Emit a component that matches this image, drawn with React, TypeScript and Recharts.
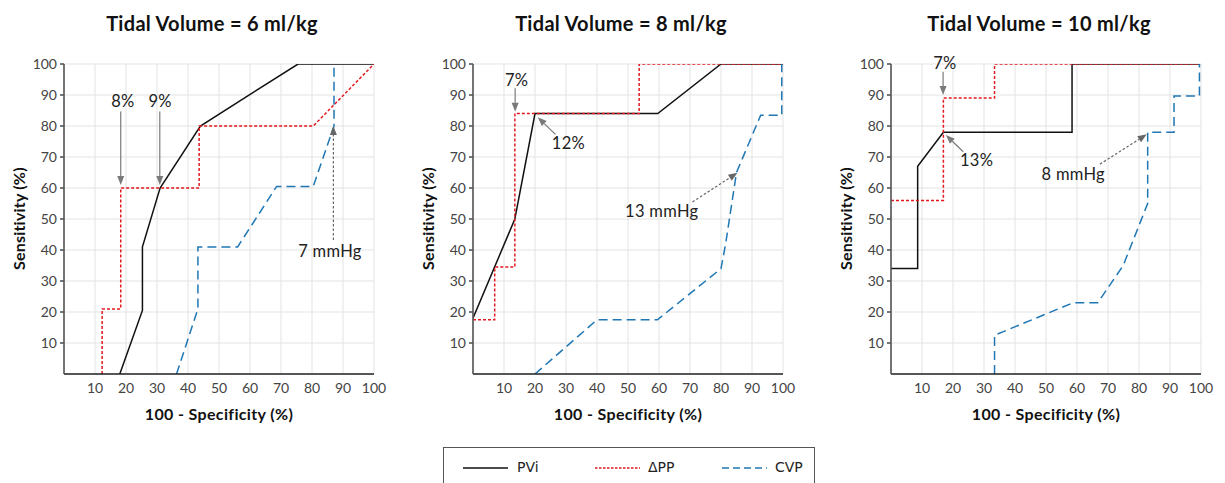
import React from 'react';
import { LineChart, Line, XAxis, YAxis, CartesianGrid, ReferenceLine, ReferenceDot } from 'recharts';

type Pt = { x: number; y: number };

// ---------- data (x = 100 - specificity, y = sensitivity) ----------
const TICKS = [10, 20, 30, 40, 50, 60, 70, 80, 90, 100];
const TITLES = ['Tidal Volume = 6 ml/kg', 'Tidal Volume = 8 ml/kg', 'Tidal Volume = 10 ml/kg'];
const SERIES_NAMES = ['PVi', 'ΔPP', 'CVP'];

const pvi6: Pt[] = [{ x: 18, y: 0 }, { x: 25.3, y: 20.5 }, { x: 25.3, y: 41 }, { x: 31, y: 60 }, { x: 44, y: 80 }, { x: 75.5, y: 100 }, { x: 100, y: 100 }];
const dpp6: Pt[] = [{ x: 12.3, y: 0 }, { x: 12.3, y: 21 }, { x: 18.3, y: 21 }, { x: 18.3, y: 60 }, { x: 43.6, y: 60 }, { x: 43.6, y: 80 }, { x: 80.4, y: 80 }, { x: 100, y: 100 }];
const cvp6: Pt[] = [{ x: 36.3, y: 0 }, { x: 43.2, y: 21 }, { x: 43.2, y: 41 }, { x: 56, y: 41 }, { x: 68.6, y: 60.5 }, { x: 80.4, y: 60.5 }, { x: 87.1, y: 80 }, { x: 87.1, y: 100 }];

const pvi8: Pt[] = [{ x: 0, y: 18 }, { x: 13.5, y: 50 }, { x: 20, y: 84 }, { x: 59.6, y: 84 }, { x: 80, y: 100 }, { x: 100, y: 100 }];
const dpp8: Pt[] = [{ x: 0, y: 17.5 }, { x: 7, y: 17.5 }, { x: 7, y: 34.5 }, { x: 13.5, y: 34.5 }, { x: 13.5, y: 84 }, { x: 53.6, y: 84 }, { x: 53.6, y: 100 }, { x: 100, y: 100 }];
const cvp8: Pt[] = [{ x: 20, y: 0 }, { x: 40, y: 17.5 }, { x: 59.5, y: 17.5 }, { x: 80, y: 34 }, { x: 81.5, y: 42 }, { x: 85, y: 65 }, { x: 92.8, y: 83.5 }, { x: 99.6, y: 83.5 }, { x: 99.6, y: 100 }];

const pvi10: Pt[] = [{ x: 0, y: 34 }, { x: 8.6, y: 34 }, { x: 8.6, y: 67 }, { x: 16.9, y: 78 }, { x: 58.4, y: 78 }, { x: 58.4, y: 100 }, { x: 99.5, y: 100 }];
const dpp10: Pt[] = [{ x: 0, y: 56 }, { x: 16.9, y: 56 }, { x: 16.9, y: 89 }, { x: 33.4, y: 89 }, { x: 33.4, y: 100 }, { x: 99.5, y: 100 }];
const cvp10: Pt[] = [{ x: 33.4, y: 0 }, { x: 33.4, y: 12.5 }, { x: 58.8, y: 23 }, { x: 66.7, y: 23 }, { x: 74.9, y: 35 }, { x: 82.8, y: 55 }, { x: 82.8, y: 78 }, { x: 91.3, y: 78 }, { x: 91.3, y: 89.7 }, { x: 99.5, y: 89.7 }, { x: 99.5, y: 100 }];

// annotations (data coordinates)
type Note = { text: string; x: number; y: number };
type Arrow = { x1: number; y1: number; x2: number; y2: number; dotted: boolean };

const notes6: Note[] = [{ text: '8%', x: 19, y: 88.2 }, { text: '9%', x: 31, y: 88.2 }, { text: '7 mmHg', x: 85.8, y: 39.7 }];
const arrows6: Arrow[] = [
  { x1: 18.3, y1: 84.7, x2: 18.3, y2: 61, dotted: false },
  { x1: 30.9, y1: 84.7, x2: 30.9, y2: 61, dotted: false },
  { x1: 86.9, y1: 43.2, x2: 86.9, y2: 80, dotted: true },
];
const notes8: Note[] = [{ text: '7%', x: 14.1, y: 94.8 }, { text: '12%', x: 30.8, y: 74.6 }, { text: '13 mmHg', x: 60.9, y: 52.6 }];
const arrows8: Arrow[] = [
  { x1: 13.6, y1: 92.2, x2: 13.6, y2: 84.6, dotted: false },
  { x1: 26.6, y1: 77.3, x2: 20.9, y2: 82.8, dotted: false },
  { x1: 70.8, y1: 55.5, x2: 85.3, y2: 64.9, dotted: true },
];
const notes10: Note[] = [{ text: '7%', x: 17.4, y: 100.4 }, { text: '13%', x: 27.6, y: 69 }, { text: '8 mmHg', x: 58.8, y: 64.5 }];
const arrows10: Arrow[] = [
  { x1: 16.8, y1: 97.5, x2: 16.8, y2: 90, dotted: false },
  { x1: 23.3, y1: 71.7, x2: 17.7, y2: 77.1, dotted: false },
  { x1: 67.4, y1: 67.7, x2: 82.5, y2: 77.3, dotted: true },
];

// ---------- styles ----------
const FONT = 'Lato, "Noto Sans", sans-serif';
const PVI_COLOR = '#111111';
const DPP_COLOR = '#e3191f';
const CVP_COLOR = '#1f77b4';
const DPP_DASH = '3 2';
const CVP_DASH = '9 5';

const ArrowShape = (props: any) => {
  const { x1, y1, x2, y2, dotted } = props;
  if ([x1, y1, x2, y2].some((v) => typeof v !== 'number' || isNaN(v))) return null;
  const dx = x2 - x1;
  const dy = y2 - y1;
  const len = Math.sqrt(dx * dx + dy * dy) || 1;
  const ux = dx / len;
  const uy = dy / len;
  const headL = 9;
  const headW = 3.5;
  const bx = x2 - ux * headL;
  const by = y2 - uy * headL;
  const px = -uy;
  const py = ux;
  const color = dotted ? '#666666' : '#7a7a7a';
  return (
    <g>
      <line x1={x1} y1={y1} x2={bx} y2={by} stroke={color} strokeWidth={1.2} strokeDasharray={dotted ? '2.5 2' : undefined} />
      <polygon
        points={`${x2},${y2} ${bx + px * headW},${by + py * headW} ${bx - px * headW},${by - py * headW}`}
        fill={color}
      />
    </g>
  );
};

const makeNoteShape = (text: string) => (props: any) => {
  const { cx, cy } = props;
  if (typeof cx !== 'number' || typeof cy !== 'number') return null;
  return (
    <text x={cx} y={cy} textAnchor="middle" dominantBaseline="central" fontFamily={FONT} fontSize={16.5} letterSpacing={0.3} fill="#222">
      {text}
    </text>
  );
};

type PanelProps = {
  left: number;
  title: string;
  pvi: Pt[];
  dpp: Pt[];
  cvp: Pt[];
  notes: Note[];
  arrows: Arrow[];
};

const CH_W = 398;
const CH_H = 440;

const Panel = ({ left, title, pvi, dpp, cvp, notes, arrows }: PanelProps) => {
  const plotCx = left + 64 + 155;
  return (
    <>
      <div
        style={{
          position: 'absolute',
          left: left + 212 - 200,
          top: 11.3,
          width: 400,
          textAlign: 'center',
          fontFamily: FONT,
          fontWeight: 700,
          fontSize: 20,
          letterSpacing: 0.3,
          lineHeight: '24px',
          color: '#111',
          whiteSpace: 'nowrap',
        }}
      >
        {title}
      </div>
      <div style={{ position: 'absolute', left, top: 0, width: CH_W, height: CH_H }}>
        <LineChart width={CH_W} height={CH_H} margin={{ top: 64, right: 24, bottom: 26, left: 0 }}>
          <CartesianGrid stroke="#e3e3e3" strokeWidth={1} />
          <XAxis
            dataKey="x"
            type="number"
            domain={[0, 100]}
            ticks={TICKS}
            allowDataOverflow
            height={40}
            tickLine={false}
            tickSize={4}
            tickMargin={5}
            stroke="#222"
            strokeWidth={1.6}
            tick={{ fill: '#444', fontSize: 14, fontFamily: FONT }}
          />
          <YAxis
            dataKey="y"
            type="number"
            domain={[0, 100]}
            ticks={TICKS}
            allowDataOverflow
            width={64}
            tickSize={4}
            tickMargin={3}
            stroke="#555"
            strokeWidth={1.6}
            tick={{ fill: '#444', fontSize: 14, fontFamily: FONT }}
          />
          <Line data={pvi} dataKey="y" type="linear" stroke={PVI_COLOR} strokeWidth={1.5} dot={false} activeDot={false} isAnimationActive={false} />
          <Line data={dpp} dataKey="y" type="linear" stroke={DPP_COLOR} strokeWidth={1.5} strokeDasharray={DPP_DASH} dot={false} activeDot={false} isAnimationActive={false} />
          <Line data={cvp} dataKey="y" type="linear" stroke={CVP_COLOR} strokeWidth={1.5} strokeDasharray={CVP_DASH} dot={false} activeDot={false} isAnimationActive={false} />
          {arrows.map((a, i) => (
            <ReferenceLine
              key={'a' + i}
              segment={[{ x: a.x1, y: a.y1 }, { x: a.x2, y: a.y2 }]}
              ifOverflow="visible"
              shape={(p: any) => <ArrowShape {...p} dotted={a.dotted} />}
            />
          ))}
          {notes.map((n, i) => (
            <ReferenceDot key={'n' + i} x={n.x} y={n.y} r={0} ifOverflow="visible" shape={makeNoteShape(n.text)} />
          ))}
        </LineChart>
      </div>
      <div
        style={{
          position: 'absolute',
          left: plotCx - 150,
          top: 404.2,
          width: 300,
          textAlign: 'center',
          fontFamily: FONT,
          fontWeight: 700,
          fontSize: 16,
          letterSpacing: 0.35,
          lineHeight: '19.2px',
          color: '#111',
          whiteSpace: 'nowrap',
        }}
      >
        100 - Specificity (%)
      </div>
      <div
        style={{
          position: 'absolute',
          left: left + 19.3 - 100,
          top: 219 - 9.6,
          width: 200,
          height: 19.2,
          textAlign: 'center',
          fontFamily: FONT,
          fontWeight: 700,
          fontSize: 16,
          letterSpacing: 0.2,
          lineHeight: '19.2px',
          color: '#111',
          whiteSpace: 'nowrap',
          transform: 'rotate(-90deg)',
        }}
      >
        Sensitivity (%)
      </div>
    </>
  );
};

const LegendItem = ({ x, color, dash, label, textX }: { x: number; color: string; dash?: string; label: string; textX: number }) => (
  <>
    <svg style={{ position: 'absolute', left: x, top: 464, overflow: 'visible' }} width={46} height={8}>
      <line x1={0} y1={4} x2={45} y2={4} stroke={color} strokeWidth={1.5} strokeDasharray={dash} />
    </svg>
    <div
      style={{
        position: 'absolute',
        left: textX,
        top: 458.5,
        fontFamily: '"DejaVu Sans", sans-serif',
        fontSize: 14,
        lineHeight: '17px',
        color: '#222',
        whiteSpace: 'nowrap',
      }}
    >
      {label}
    </div>
  </>
);

export default function App() {
  return (
    <div style={{ position: 'absolute', left: 0, top: 0, width: 1225, height: 483, overflow: 'hidden', background: '#fff' }}>
      <Panel left={0} title={TITLES[0]} pvi={pvi6} dpp={dpp6} cvp={cvp6} notes={notes6} arrows={arrows6} />
      <Panel left={409} title={TITLES[1]} pvi={pvi8} dpp={dpp8} cvp={cvp8} notes={notes8} arrows={arrows8} />
      <Panel left={827} title={TITLES[2]} pvi={pvi10} dpp={dpp10} cvp={cvp10} notes={notes10} arrows={arrows10} />
      <div
        style={{
          position: 'absolute',
          left: 443,
          top: 447,
          width: 372,
          height: 50,
          border: '1.5px solid #555',
          boxSizing: 'border-box',
        }}
      />
      <LegendItem x={463} color={PVI_COLOR} label={SERIES_NAMES[0]} textX={517} />
      <LegendItem x={595} color={DPP_COLOR} dash="2.5 1.5" label={SERIES_NAMES[1]} textX={648} />
      <LegendItem x={722} color={CVP_COLOR} dash="7 4" label={SERIES_NAMES[2]} textX={775} />
    </div>
  );
}
